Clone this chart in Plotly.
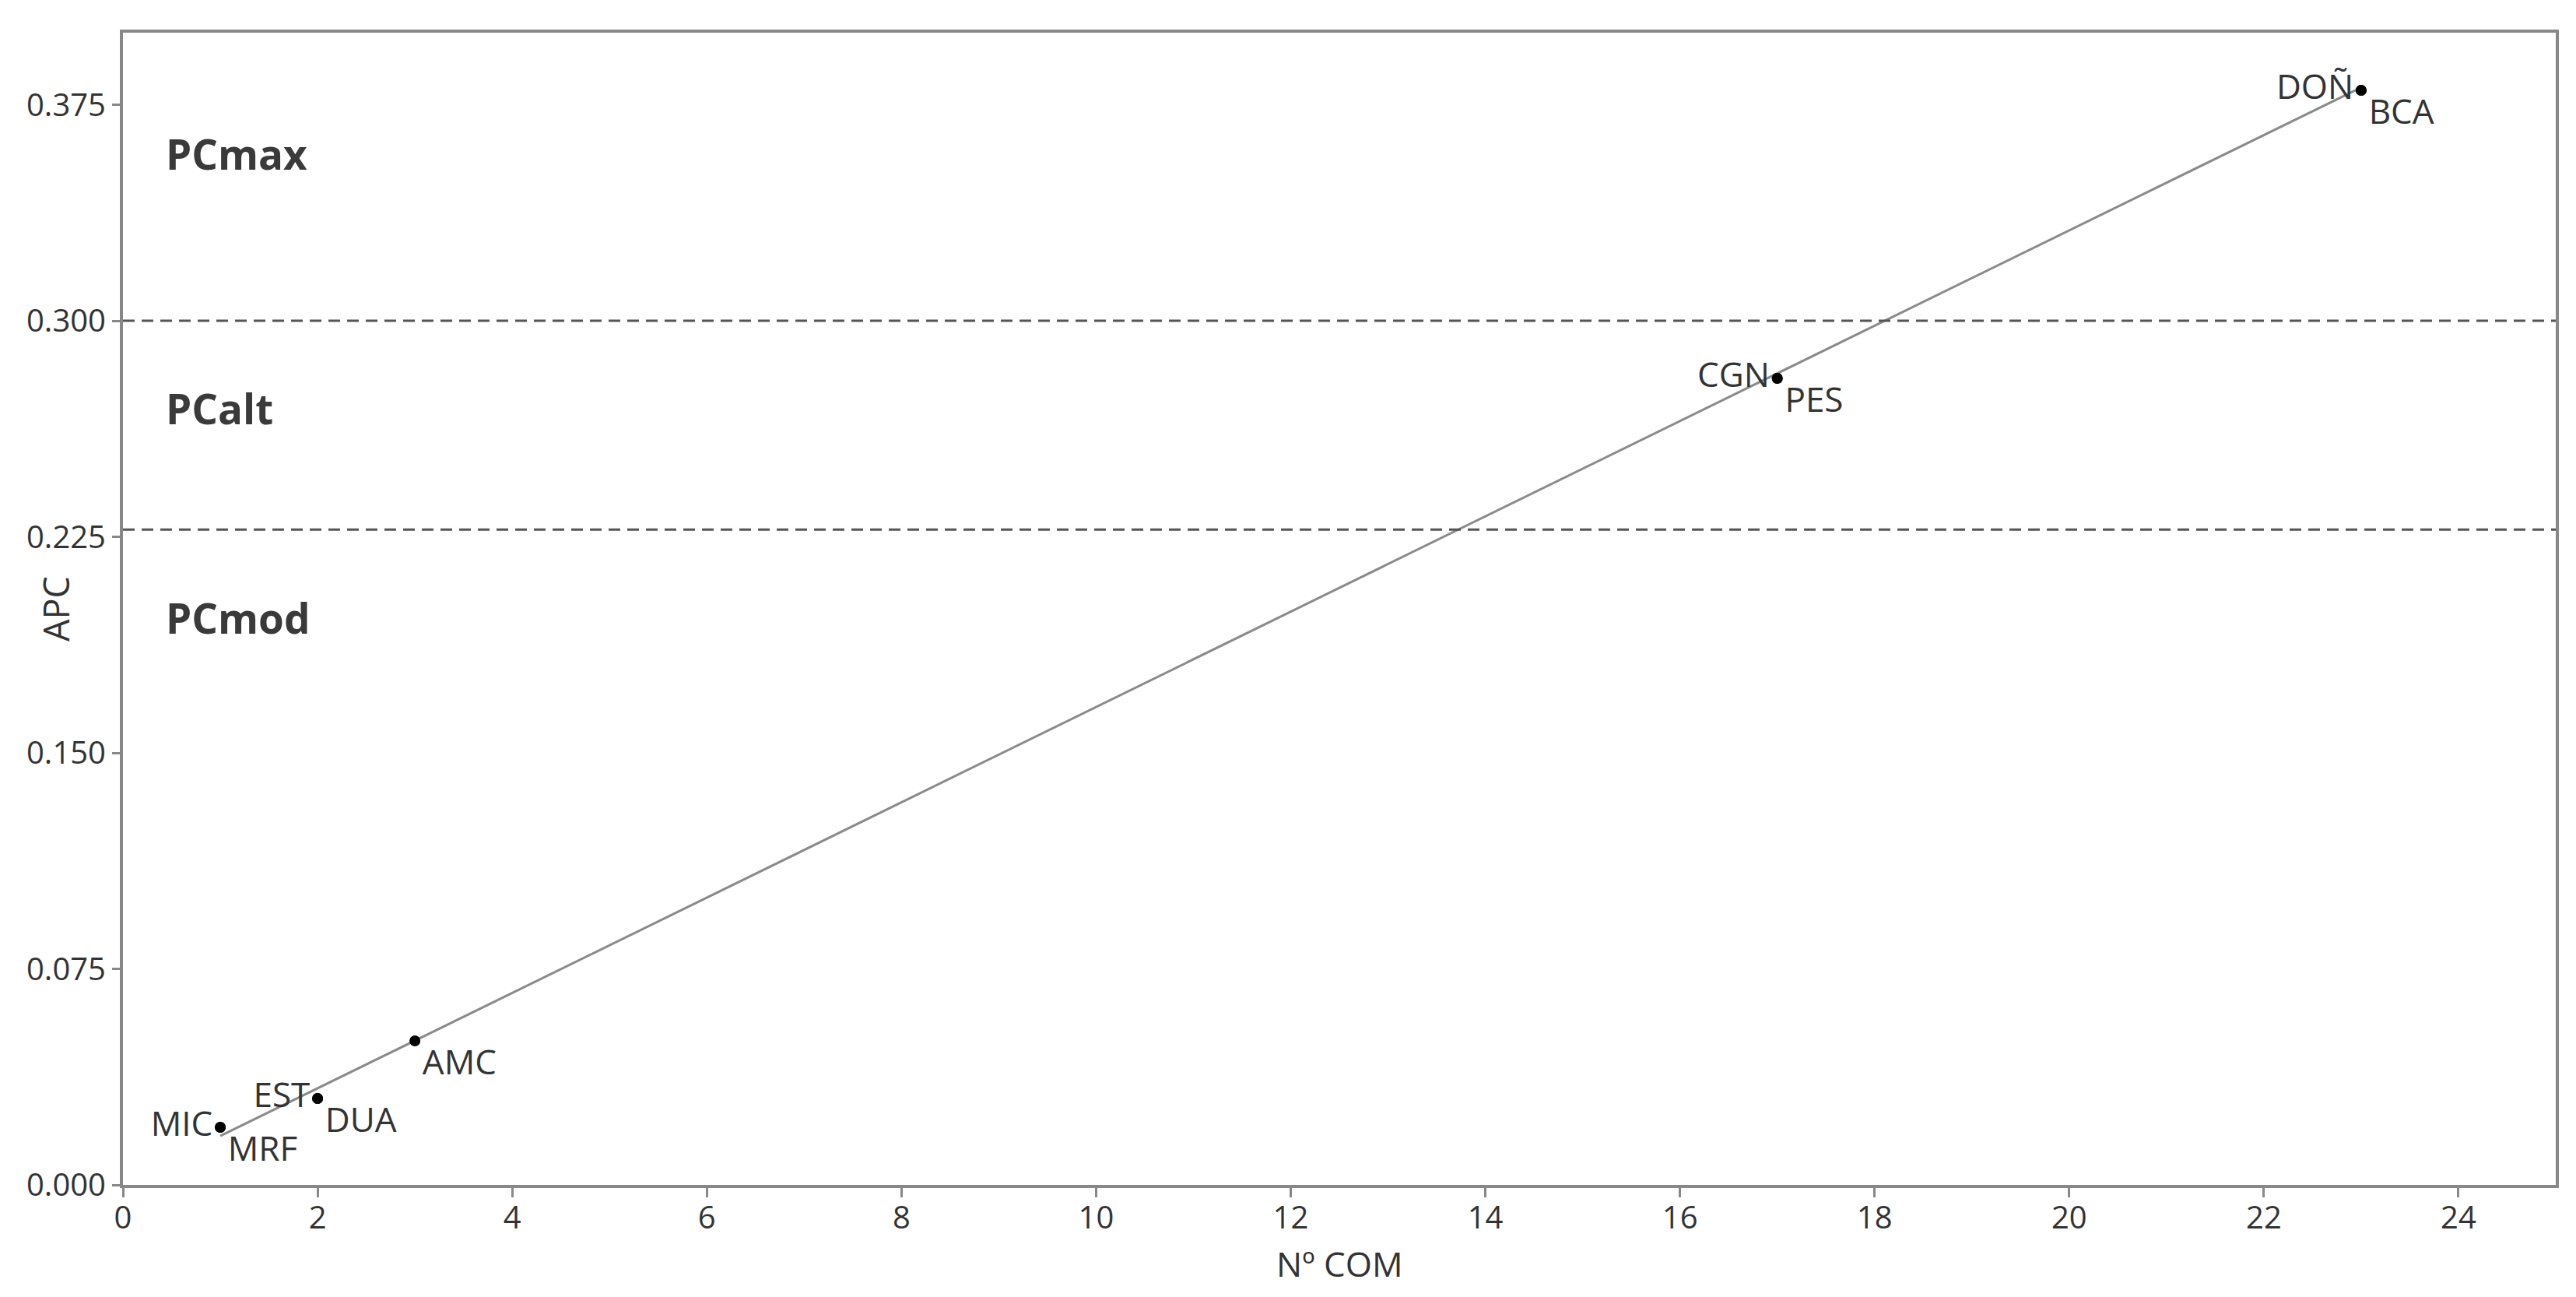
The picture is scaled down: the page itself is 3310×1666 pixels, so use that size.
import plotly.graph_objects as go

# data
sites = ["MIC", "MRF", "EST", "DUA", "AMC", "CGN", "PES", "DOÑ", "BCA"]
n_com = [1, 1, 2, 2, 3, 17, 17, 23, 23]
apc = [0.02, 0.02, 0.03, 0.03, 0.05, 0.28, 0.28, 0.38, 0.38]
label_pos = ["middle left", "bottom right", "middle left", "bottom right", "bottom right",
             "middle left", "bottom right", "middle left", "bottom right"]

# fitted line end points
fit_x = [1, 23]
fit_y = [0.017, 0.381]

# class thresholds and labels
thresholds = [0.3, 0.2275]
class_names = ["PCmax", "PCalt", "PCmod"]
class_y = [0.358, 0.2695, 0.197]

x_ticks = list(range(0, 25, 2))
y_ticks = [0.0, 0.075, 0.15, 0.225, 0.3, 0.375]
y_tick_text = ["0.000", "0.075", "0.150", "0.225", "0.300", "0.375"]

FONT = "Open Sans, Noto Sans, sans-serif"
TXT = "#333333"
AXIS = "#888888"

fig = go.Figure()

fig.add_trace(go.Scatter(
    x=fit_x, y=fit_y, mode="lines",
    line=dict(color="#8a8a8a", width=3),
    hoverinfo="skip", showlegend=False
))

fig.add_trace(go.Scatter(
    x=n_com, y=apc, mode="markers+text",
    text=sites, textposition=label_pos,
    textfont=dict(family=FONT, size=44, color=TXT),
    marker=dict(color="black", size=14),
    showlegend=False
))

for t in thresholds:
    fig.add_hline(y=t, line=dict(color="#555555", width=3, dash="15px,9px"))

for name, yv in zip(class_names, class_y):
    fig.add_annotation(
        x=0.42, y=yv, text="<b>%s</b>" % name, showarrow=False,
        xanchor="left", yanchor="middle",
        font=dict(family=FONT, size=53, color="#3a3a3a")
    )

# axis titles as annotations so they sit like in the original
fig.add_annotation(
    x=0.5, y=0, xref="paper", yref="paper", text="Nº COM", showarrow=False,
    xanchor="center", yanchor="top", yshift=-70, borderpad=0,
    font=dict(family=FONT, size=44, color=TXT)
)
fig.add_annotation(
    x=0, y=0.5, xref="paper", yref="paper", text="APC", showarrow=False,
    xanchor="center", yanchor="middle", xshift=-87, textangle=-90,
    font=dict(family=FONT, size=45, color=TXT)
)

fig.update_xaxes(
    range=[0, 25], tickvals=x_ticks, automargin=False,
    showline=True, mirror=True, linecolor=AXIS, linewidth=4,
    ticks="outside", ticklen=12, tickwidth=3, tickcolor=AXIS,
    ticklabelstandoff=-8,
    showgrid=False, zeroline=False,
    tickfont=dict(family=FONT, size=40, color=TXT)
)
fig.update_yaxes(
    range=[0, 0.4], tickvals=y_ticks, ticktext=y_tick_text, automargin=False,
    showline=True, mirror=True, linecolor=AXIS, linewidth=4,
    ticks="outside", ticklen=10, tickwidth=3, tickcolor=AXIS,
    showgrid=False, zeroline=False,
    tickfont=dict(family=FONT, size=40, color=TXT)
)

fig.update_layout(
    width=3310, height=1666,
    margin=dict(l=150, r=34, t=34, b=152, autoexpand=False),
    paper_bgcolor="white", plot_bgcolor="white",
    font=dict(family=FONT, color=TXT)
)

fig.write_html("out.html")
